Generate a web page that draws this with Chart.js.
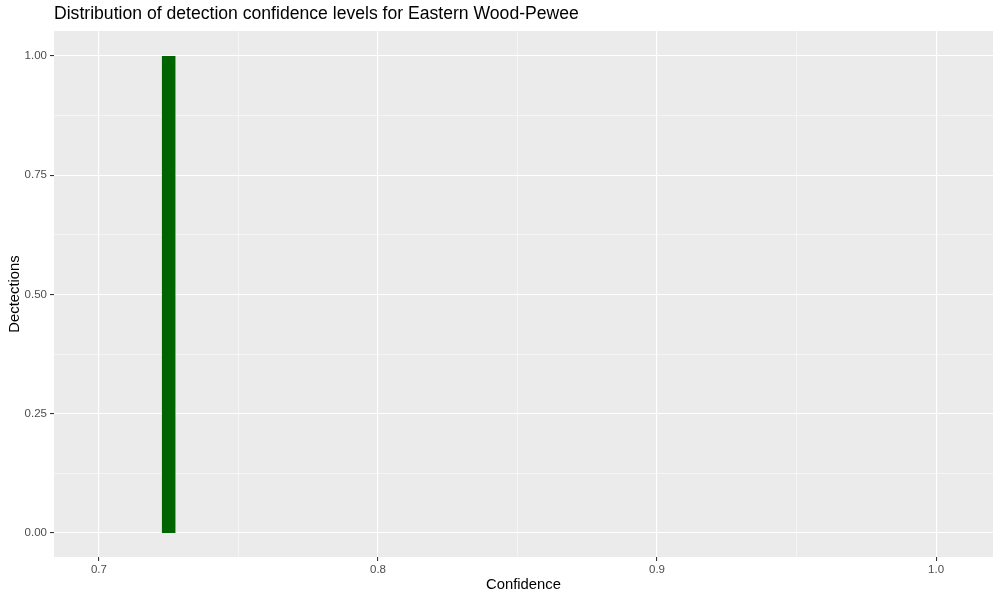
<!DOCTYPE html>
<html>
<head>
<meta charset="utf-8">
<script src="https://cdn.jsdelivr.net/npm/chart.js@4.4.0/dist/chart.umd.min.js"></script>
<style>
  html, body { margin: 0; padding: 0; background: #fff; }
  #wrap { width: 1000px; height: 600px; }
</style>
</head>
<body>
<div id="wrap"><canvas id="chart-hist"></canvas></div>
<script>
// dados do histograma (limites de cada classe e contagem)
var titulo = 'Distribution of detection confidence levels for Eastern Wood-Pewee';
var binInicio = [0.7225];
var binFim = [0.7275];
var contagens = [1];
var xTicks = [0.7, 0.75, 0.8, 0.85, 0.9, 0.95, 1.0];
var yTicks = [0, 0.125, 0.25, 0.375, 0.5, 0.625, 0.75, 0.875, 1.0];

// cada barra vira um poligono fechado em cima do zero
var pontos = [];
for (let i = 0; i < contagens.length; i++) {
    pontos.push({x: binInicio[i], y: 0});
    pontos.push({x: binInicio[i], y: contagens[i]});
    pontos.push({x: binFim[i], y: contagens[i]});
    pontos.push({x: binFim[i], y: 0});
}

function ehMaior(v, passo) {
    let r = v / passo;
    return Math.abs(r - Math.round(r)) < 1e-6;
}

const fundoPainel = {
    id: 'fundoPainel',
    beforeDraw(chart) {
        let a = chart.chartArea, ctx = chart.ctx;
        ctx.save();
        ctx.fillStyle = '#EBEBEB';
        ctx.fillRect(a.left, a.top, a.right - a.left, a.bottom - a.top);
        ctx.restore();
    },
    afterDraw(chart) {
        let a = chart.chartArea, ctx = chart.ctx;
        ctx.save();
        ctx.fillStyle = '#000';
        ctx.font = '17.6px "Liberation Sans", Arial, sans-serif';
        ctx.textBaseline = 'middle';
        ctx.fillText(titulo, a.left, 14);
        ctx.restore();
    }
};

var ctx = document.getElementById('chart-hist').getContext('2d');
const config = {
    type: 'line',
    data: {
        datasets: [{
            data: pontos,
            borderColor: '#006400',
            backgroundColor: '#006400',
            borderWidth: 0,
            pointRadius: 0,
            tension: 0,
            fill: 'origin'
        }]
    },
    options: {
        responsive: true,
        maintainAspectRatio: false,
        animation: false,
        layout: {padding: {top: 31, right: 7, bottom: 0, left: 0}},
        plugins: {
            legend: {display: false},
            tooltip: {enabled: false}
        },
        scales: {
            x: {
                type: 'linear',
                min: 0.6839,
                max: 1.0204,
                afterFit: function (s) { s.height = 43; },
                afterBuildTicks: function (s) {
                    s.ticks = xTicks.map(v => ({value: v}));
                },
                border: {display: false},
                grid: {
                    color: '#FFFFFF',
                    lineWidth: c => ehMaior(c.tick.value, 0.1) ? 1.1 : 0.5,
                    tickColor: c => ehMaior(c.tick.value, 0.1) ? '#333333' : 'rgba(0,0,0,0)',
                    tickLength: 4,
                    drawTicks: true
                },
                ticks: {
                    autoSkip: false,
                    maxRotation: 0,
                    padding: 2,
                    color: '#4D4D4D',
                    font: {family: '"Liberation Sans", Arial, sans-serif', size: 11.5},
                    callback: v => ehMaior(v, 0.1) ? v.toFixed(1) : ''
                },
                title: {
                    display: true,
                    text: 'Confidence',
                    color: '#000',
                    padding: {top: 4, bottom: 6},
                    font: {family: '"Liberation Sans", Arial, sans-serif', size: 14.8}
                }
            },
            y: {
                type: 'linear',
                min: -0.0503,
                max: 1.0524,
                afterFit: function (s) { s.width = 54; },
                afterBuildTicks: function (s) {
                    s.ticks = yTicks.map(v => ({value: v}));
                },
                border: {display: false},
                grid: {
                    color: '#FFFFFF',
                    lineWidth: c => ehMaior(c.tick.value, 0.25) ? 1.1 : 0.5,
                    tickColor: c => ehMaior(c.tick.value, 0.25) ? '#333333' : 'rgba(0,0,0,0)',
                    tickLength: 4,
                    drawTicks: true
                },
                ticks: {
                    autoSkip: false,
                    padding: 3,
                    color: '#4D4D4D',
                    font: {family: '"Liberation Sans", Arial, sans-serif', size: 11.5},
                    callback: v => ehMaior(v, 0.25) ? v.toFixed(2) : ''
                },
                title: {
                    display: true,
                    text: 'Dectections',
                    color: '#000',
                    padding: {top: 6, bottom: 0},
                    font: {family: '"Liberation Sans", Arial, sans-serif', size: 14.8}
                }
            }
        }
    },
    plugins: [fundoPainel]
};
var myChart = new Chart(ctx, config);
</script>
</body>
</html>
